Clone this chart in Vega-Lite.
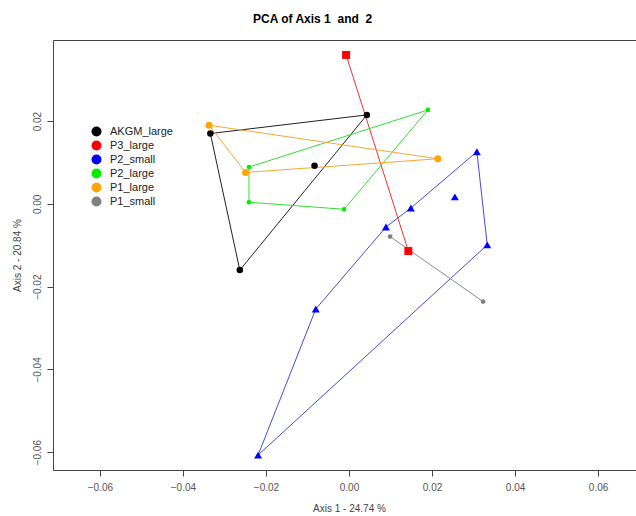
{
  "$schema": "https://vega.github.io/schema/vega-lite/v6.json",
  "autosize": "none",
  "padding": {"left": 53, "top": 40, "right": 0, "bottom": 60},
  "width": 592,
  "height": 430,
  "background": "white",
  "title": {"text": "PCA of Axis 1\u00a0 and\u00a0 2", "font": "Liberation Sans", "fontSize": 12, "fontWeight": "bold", "color": "#000000", "anchor": "start", "dx": 241, "offset": 14},
  "config": {
    "view": {"stroke": "#444444", "strokeWidth": 1},
    "axis": {"grid": false, "domain": false, "tickColor": "#444444", "tickSize": 6, "labelFont": "Liberation Sans", "labelFontSize": 10, "labelColor": "#555555", "titleFont": "Liberation Sans", "titleFontSize": 10, "titleFontWeight": "normal", "titleColor": "#444444"}
  },
  "datasets": {
    "pts": [
      {"group": "AKGM_large", "x": -0.0334, "y": 0.0170},
      {"group": "AKGM_large", "x": 0.0043, "y": 0.0215},
      {"group": "AKGM_large", "x": -0.0083, "y": 0.0092},
      {"group": "AKGM_large", "x": -0.0263, "y": -0.0160},
      {"group": "P3_large", "x": -0.0007, "y": 0.0360},
      {"group": "P3_large", "x": 0.0143, "y": -0.0114},
      {"group": "P2_small", "x": 0.0308, "y": 0.0126},
      {"group": "P2_small", "x": 0.0333, "y": -0.0099},
      {"group": "P2_small", "x": -0.0219, "y": -0.0607},
      {"group": "P2_small", "x": -0.0080, "y": -0.0254},
      {"group": "P2_small", "x": 0.0089, "y": -0.0056},
      {"group": "P2_small", "x": 0.0149, "y": -0.0010},
      {"group": "P2_small", "x": 0.0255, "y": 0.0017},
      {"group": "P2_large", "x": -0.0241, "y": 0.0089},
      {"group": "P2_large", "x": 0.0190, "y": 0.0227},
      {"group": "P2_large", "x": -0.0012, "y": -0.0013},
      {"group": "P2_large", "x": -0.0241, "y": 0.0004},
      {"group": "P1_large", "x": -0.0337, "y": 0.0190},
      {"group": "P1_large", "x": 0.0214, "y": 0.0109},
      {"group": "P1_large", "x": -0.0249, "y": 0.0076},
      {"group": "P1_small", "x": 0.0099, "y": -0.0079},
      {"group": "P1_small", "x": 0.0323, "y": -0.0236}
    ],
    "hull": [
      {"group": "AKGM_large", "ord": 1, "x": -0.0334, "y": 0.0170},
      {"group": "AKGM_large", "ord": 2, "x": 0.0043, "y": 0.0215},
      {"group": "AKGM_large", "ord": 3, "x": -0.0263, "y": -0.0160},
      {"group": "AKGM_large", "ord": 4, "x": -0.0334, "y": 0.0170},
      {"group": "P3_large", "ord": 1, "x": -0.0007, "y": 0.0360},
      {"group": "P3_large", "ord": 2, "x": 0.0143, "y": -0.0114},
      {"group": "P2_small", "ord": 1, "x": 0.0308, "y": 0.0126},
      {"group": "P2_small", "ord": 2, "x": 0.0333, "y": -0.0099},
      {"group": "P2_small", "ord": 3, "x": -0.0219, "y": -0.0607},
      {"group": "P2_small", "ord": 4, "x": -0.0080, "y": -0.0254},
      {"group": "P2_small", "ord": 5, "x": 0.0089, "y": -0.0056},
      {"group": "P2_small", "ord": 6, "x": 0.0149, "y": -0.0010},
      {"group": "P2_small", "ord": 7, "x": 0.0308, "y": 0.0126},
      {"group": "P2_large", "ord": 1, "x": -0.0241, "y": 0.0089},
      {"group": "P2_large", "ord": 2, "x": 0.0190, "y": 0.0227},
      {"group": "P2_large", "ord": 3, "x": -0.0012, "y": -0.0013},
      {"group": "P2_large", "ord": 4, "x": -0.0241, "y": 0.0004},
      {"group": "P2_large", "ord": 5, "x": -0.0241, "y": 0.0089},
      {"group": "P1_large", "ord": 1, "x": -0.0337, "y": 0.0190},
      {"group": "P1_large", "ord": 2, "x": 0.0214, "y": 0.0109},
      {"group": "P1_large", "ord": 3, "x": -0.0249, "y": 0.0076},
      {"group": "P1_large", "ord": 4, "x": -0.0337, "y": 0.0190},
      {"group": "P1_small", "ord": 1, "x": 0.0099, "y": -0.0079},
      {"group": "P1_small", "ord": 2, "x": 0.0323, "y": -0.0236}
    ]
  },
  "encoding": {
    "x": {"field": "x", "type": "quantitative", "scale": {"domain": [-0.0713, 0.0713], "nice": false, "zero": false},
      "axis": {"values": [-0.06, -0.04, -0.02, 0, 0.02, 0.04, 0.06], "format": ".2f", "title": "Axis 1 - 24.74 %", "labelPadding": 6, "titleY": 33}},
    "y": {"field": "y", "type": "quantitative", "scale": {"domain": [-0.0643, 0.0396], "nice": false, "zero": false},
      "axis": {"values": [-0.06, -0.04, -0.02, 0, 0.02], "format": ".2f", "title": "Axis 2 - 20.84 %", "labelAngle": -90, "labelAlign": "center", "labelBaseline": "bottom", "labelPadding": 5, "titleX": -31}}
  },
  "resolve": {"scale": {"color": "independent"}, "legend": {"color": "independent"}},
  "layer": [
    {
      "data": {"name": "hull"},
      "mark": {"type": "line", "strokeWidth": 1, "clip": true},
      "encoding": {
        "order": {"field": "ord", "type": "quantitative"},
        "detail": {"field": "group"},
        "color": {"field": "group", "type": "nominal", "legend": null,
          "scale": {"domain": ["AKGM_large", "P3_large", "P2_small", "P2_large", "P1_large", "P1_small"], "range": ["#222222", "#f03333", "#4848e0", "#33e033", "#f5a833", "#8a8a8a"]}}
      }
    },
    {
      "data": {"name": "pts"},
      "mark": {"type": "point", "filled": true, "opacity": 1, "clip": true},
      "encoding": {
        "color": {"field": "group", "type": "nominal",
          "scale": {"domain": ["AKGM_large", "P3_large", "P2_small", "P2_large", "P1_large", "P1_small"], "range": ["#000000", "#ff0000", "#0000ff", "#00ee00", "#ffa500", "#808080"]},
          "legend": {"title": null, "orient": "none", "legendX": 38, "legendY": 86, "labelFont": "Liberation Sans", "labelFontSize": 11, "labelColor": "#222222", "rowPadding": 2, "symbolStrokeWidth": 0, "labelOffset": 8,
            "encode": {"symbols": {"update": {"shape": {"scale": "shape", "field": "value"}, "size": {"scale": "size", "field": "value"}}}}}},
        "shape": {"field": "group", "type": "nominal", "legend": null,
          "scale": {"domain": ["AKGM_large", "P3_large", "P2_small", "P2_large", "P1_large", "P1_small"], "range": ["circle", "square", "triangle-up", "circle", "circle", "circle"]}},
        "size": {"field": "group", "type": "nominal", "legend": null,
          "scale": {"type": "ordinal", "domain": ["AKGM_large", "P3_large", "P2_small", "P2_large", "P1_large", "P1_small"], "range": [42, 64, 64, 22, 50, 22]}}
      }
    }
  ]
}
